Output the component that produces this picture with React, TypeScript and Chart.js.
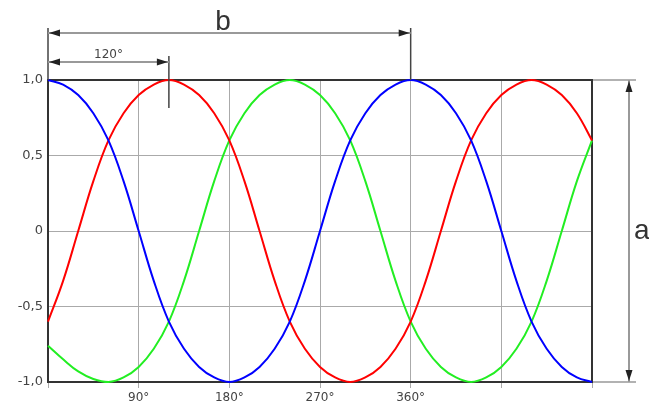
import React, { useEffect, useRef } from "react";
import { Chart, registerables } from "chart.js";

Chart.register(...registerables);

// Phase angle in degrees
const degrees = [
  0, 15, 30, 45, 60, 75, 90, 105, 120, 135, 150, 165, 180, 195, 210, 225, 240, 255, 270,
  285, 300, 315, 330, 345, 360, 375, 390, 405, 420, 435, 450, 465, 480, 495, 510, 525, 540,
];

const blueValues = [
  1, 0.97, 0.9, 0.78, 0.6, 0.33, 0, -0.33, -0.6, -0.78, -0.9, -0.97, -1, -0.97, -0.9, -0.78, -0.6, -0.33, 0,
  0.33, 0.6, 0.78, 0.9, 0.97, 1, 0.97, 0.9, 0.78, 0.6, 0.33, 0, -0.33, -0.6, -0.78, -0.9, -0.97, -1,
];

const redValues = [
  -0.6, -0.33, 0, 0.33, 0.6, 0.78, 0.9, 0.97, 1, 0.97, 0.9, 0.78, 0.6, 0.33, 0, -0.33, -0.6, -0.78, -0.9,
  -0.97, -1, -0.97, -0.9, -0.78, -0.6, -0.33, 0, 0.33, 0.6, 0.78, 0.9, 0.97, 1, 0.97, 0.9, 0.78, 0.6,
];

const greenValues = [
  -0.76, -0.85, -0.93, -0.98, -1, -0.97, -0.9, -0.78, -0.6, -0.33, 0, 0.33, 0.6, 0.78, 0.9, 0.97, 1, 0.97, 0.9,
  0.78, 0.6, 0.33, 0, -0.33, -0.6, -0.78, -0.9, -0.97, -1, -0.97, -0.9, -0.78, -0.6, -0.33, 0, 0.33, 0.6,
];

const xGridValues = [0, 90, 180, 270, 360, 450, 540];
const xTickLabels = ["", "90°", "180°", "270°", "360°", "", ""];
const yGridValues = [-1, -0.5, 0, 0.5, 1];
const yTickLabels = ["-1,0", "-0,5", "0", "0,5", "1,0"];

// Dimension annotations (degrees / values)
const dimB = [0, 360];
const dimB_label = "b";
const dim120 = [0, 120];
const dim120_label = "120°";
const dimA = [-1, 1];
const dimA_label = "a";

function arrow(ctx: CanvasRenderingContext2D, x: number, y: number, dir: "l" | "r" | "u" | "d") {
  const L = 11;
  const W = 3.5;
  ctx.beginPath();
  if (dir === "l") {
    ctx.moveTo(x, y);
    ctx.lineTo(x + L, y - W);
    ctx.lineTo(x + L, y + W);
  } else if (dir === "r") {
    ctx.moveTo(x, y);
    ctx.lineTo(x - L, y - W);
    ctx.lineTo(x - L, y + W);
  } else if (dir === "u") {
    ctx.moveTo(x, y);
    ctx.lineTo(x - W, y + L);
    ctx.lineTo(x + W, y + L);
  } else {
    ctx.moveTo(x, y);
    ctx.lineTo(x - W, y - L);
    ctx.lineTo(x + W, y - L);
  }
  ctx.closePath();
  ctx.fill();
}

const framePlugin = {
  id: "frame",
  beforeDatasetsDraw(chart: any) {
    const { ctx, chartArea } = chart;
    ctx.save();
    ctx.strokeStyle = "#333";
    ctx.lineWidth = 2;
    ctx.strokeRect(chartArea.left, chartArea.top, chartArea.right - chartArea.left, chartArea.bottom - chartArea.top);
    ctx.restore();
  },
  afterDraw(chart: any) {
    const { ctx, chartArea } = chart;
    const xs = chart.scales.x;
    const ys = chart.scales.y;
    ctx.save();
    const x0 = xs.getPixelForValue(dimB[0]);
    const xb = xs.getPixelForValue(dimB[1]);
    const x120 = xs.getPixelForValue(dim120[1]);
    const yTop = ys.getPixelForValue(dimA[1]);
    const yBot = ys.getPixelForValue(dimA[0]);
    const yB = 33;
    const y120 = 62;
    const xA = 629;

    // extension lines
    ctx.strokeStyle = "#444";
    ctx.lineWidth = 1.5;
    ctx.beginPath();
    ctx.moveTo(x0, 28);
    ctx.lineTo(x0, chartArea.top);
    ctx.moveTo(xb, 28);
    ctx.lineTo(xb, chartArea.top);
    ctx.moveTo(x120, 56);
    ctx.lineTo(x120, 108);
    ctx.stroke();

    ctx.strokeStyle = "#999";
    ctx.lineWidth = 1.5;
    ctx.beginPath();
    ctx.moveTo(chartArea.right + 1, yTop);
    ctx.lineTo(636, yTop);
    ctx.moveTo(chartArea.right + 1, yBot);
    ctx.lineTo(636, yBot);
    ctx.stroke();

    // dimension lines
    ctx.strokeStyle = "#999";
    ctx.lineWidth = 2;
    ctx.beginPath();
    ctx.moveTo(x0, yB);
    ctx.lineTo(xb, yB);
    ctx.moveTo(x0, y120);
    ctx.lineTo(x120, y120);
    ctx.moveTo(xA, yTop);
    ctx.lineTo(xA, yBot);
    ctx.stroke();

    ctx.fillStyle = "#222";
    arrow(ctx, x0 + 1, yB, "l");
    arrow(ctx, xb - 1, yB, "r");
    arrow(ctx, x0 + 1, y120, "l");
    arrow(ctx, x120 - 1, y120, "r");
    arrow(ctx, xA, yTop + 1, "u");
    arrow(ctx, xA, yBot - 1, "d");

    // labels
    ctx.fillStyle = "#333";
    ctx.textAlign = "center";
    ctx.textBaseline = "alphabetic";
    ctx.font = "28px 'Liberation Sans', sans-serif";
    ctx.fillText(dimB_label, 223, 30);
    ctx.textAlign = "left";
    ctx.fillText(dimA_label, 634, 239);
    ctx.textAlign = "center";
    ctx.font = "12px 'DejaVu Sans', sans-serif";
    ctx.fillStyle = "#444";
    ctx.fillText(dim120_label, (x0 + x120) / 2, 58);
    ctx.restore();
  },
};

export default function App() {
  const ref = useRef<HTMLCanvasElement | null>(null);
  useEffect(() => {
    if (!ref.current) return;
    const mk = (vals: number[]) => degrees.map((d, i) => ({ x: d, y: vals[i] }));
    const ds = (label: string, vals: number[], color: string) => ({
      label,
      data: mk(vals),
      borderColor: color,
      borderWidth: 2,
      pointRadius: 0,
      fill: false,
      tension: 0.4,
      clip: 4,
    });
    const chart = new Chart(ref.current, {
      type: "line",
      data: {
        datasets: [
          ds("L1", blueValues, "#0000ff"),
          ds("L2", redValues, "#ff0000"),
          ds("L3", greenValues, "#22ee22"),
        ],
      },
      options: {
        animation: false,
        responsive: false,
        layout: { padding: { top: 80, right: 57, left: 0, bottom: 0 } },
        plugins: { legend: { display: false }, tooltip: { enabled: false } },
        scales: {
          x: {
            type: "linear",
            min: 0,
            max: 540,
            afterBuildTicks: (axis: any) => {
              axis.ticks = xGridValues.map((v) => ({ value: v }));
            },
            afterFit: (axis: any) => {
              axis.height = 28;
            },
            ticks: {
              autoSkip: false,
              maxRotation: 0,
              padding: 3,
              color: "#444",
              font: { family: "'DejaVu Sans', sans-serif", size: 12 },
              callback: (v: any) => {
                const i = xGridValues.indexOf(Number(v));
                return i >= 0 ? xTickLabels[i] : "";
              },
            },
            grid: { color: "#aaa", lineWidth: 1, tickLength: 6, drawTicks: true },
            border: { display: true, color: "#333", width: 2 },
          },
          y: {
            type: "linear",
            min: -1,
            max: 1,
            afterBuildTicks: (axis: any) => {
              axis.ticks = yGridValues.map((v) => ({ value: v }));
            },
            afterFit: (axis: any) => {
              axis.width = 48;
            },
            ticks: {
              padding: 5,
              color: "#444",
              font: { family: "'DejaVu Sans', sans-serif", size: 13 },
              callback: (v: any) => {
                const i = yGridValues.indexOf(Number(v));
                return i >= 0 ? yTickLabels[i] : "";
              },
            },
            grid: { color: "#aaa", lineWidth: 1, drawTicks: false },
            border: { display: true, color: "#333", width: 2 },
          },
        },
      },
      plugins: [framePlugin],
    });
    return () => chart.destroy();
  }, []);
  return (
    <div style={{ position: "fixed", left: 0, top: 0, width: 649, height: 410, background: "#fff" }}>
      <canvas ref={ref} width={649} height={410} style={{ display: "block" }} />
    </div>
  );
}
